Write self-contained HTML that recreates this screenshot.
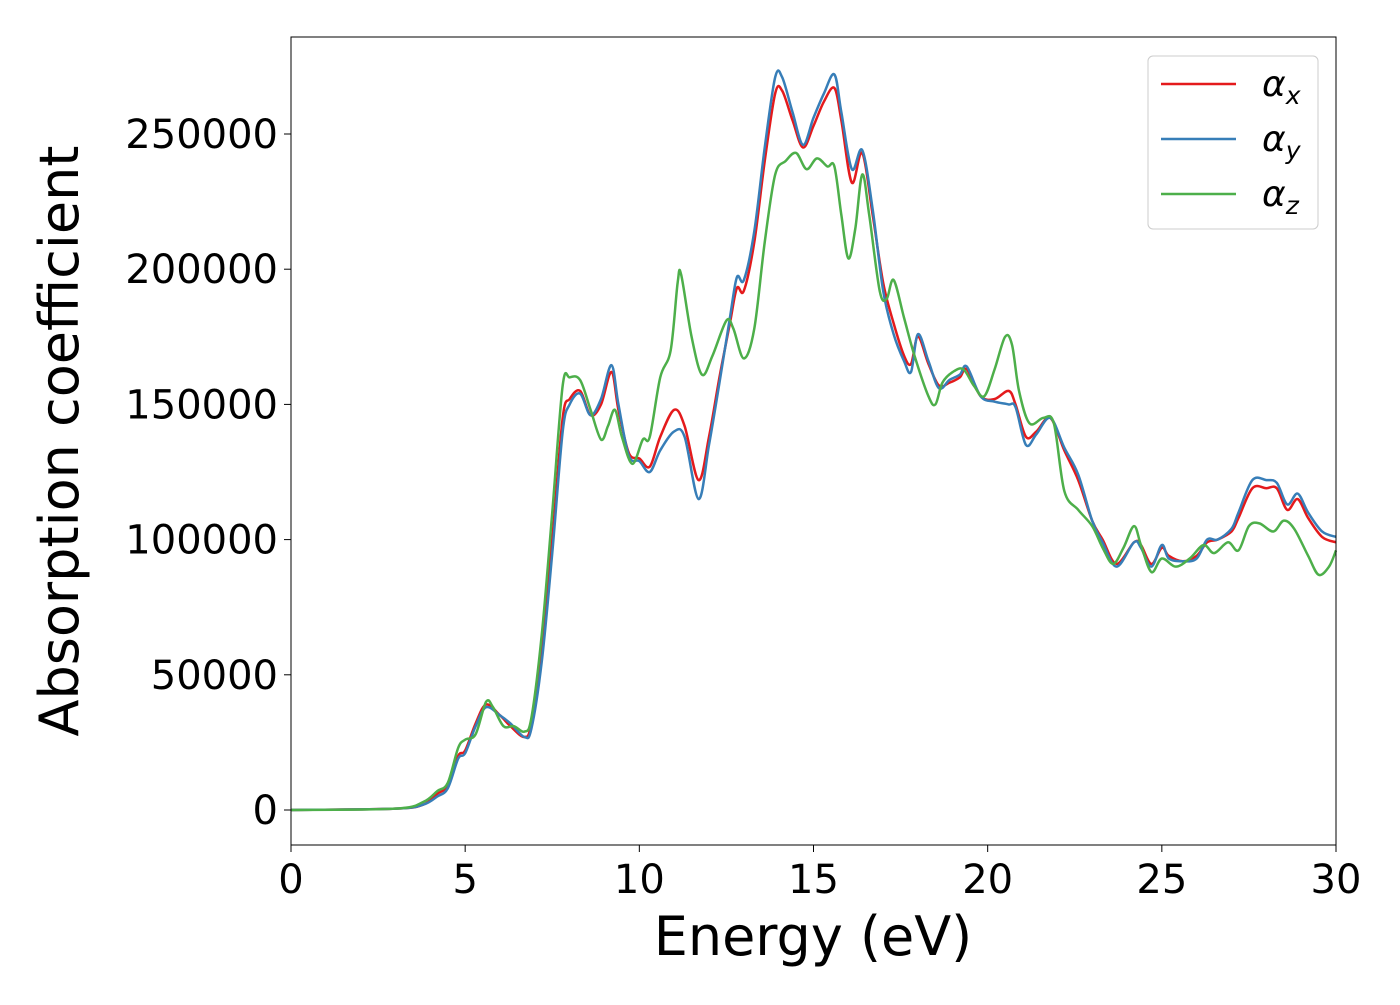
<!DOCTYPE html>
<html><head><meta charset="utf-8"><style>
body{margin:0;background:#fff;font-family:"Liberation Sans","DejaVu Sans",sans-serif}
svg text{font-family:"DejaVu Sans","Liberation Sans",sans-serif}
</style></head><body>
<svg id="chart" width="1400" height="1000" xmlns="http://www.w3.org/2000/svg">
<rect x="0" y="0" width="1400" height="1000" fill="#fff"/>
<g id="series"></g>
<rect x="291" y="37" width="1045" height="808" fill="none" stroke="#000" stroke-width="1"/>
<g id="xticks"></g><g id="yticks"></g>
<text x="813" y="955" font-size="54" text-anchor="middle">Energy (eV)</text>
<text transform="translate(78,441) rotate(-90)" font-size="54" text-anchor="middle">Absorption coefficient</text>
<g>
<rect x="1148" y="56" width="170" height="173" rx="5" fill="#fff" stroke="#ccc"/>
<line x1="1161" y1="84" x2="1236" y2="84" stroke="#e41a1c" stroke-width="2.5"/>
<line x1="1161" y1="139" x2="1236" y2="139" stroke="#377eb8" stroke-width="2.5"/>
<line x1="1161" y1="194" x2="1236" y2="194" stroke="#4daf4a" stroke-width="2.5"/>
<text x="1262" y="96" font-size="36" font-style="italic">α<tspan font-size="25" dy="8">x</tspan></text>
<text x="1262" y="151" font-size="36" font-style="italic">α<tspan font-size="25" dy="8">y</tspan></text>
<text x="1262" y="206" font-size="36" font-style="italic">α<tspan font-size="25" dy="8">z</tspan></text>
</g>
</svg>
<script>
const xTicks=[0,5,10,15,20,25,30];
const yTicks=[0,50000,100000,150000,200000,250000];
const energyX=[0,3,3.8,4.2,4.5,4.8,5.0,5.3,5.6,6.0,6.3,6.7,6.9,7.2,7.5,7.8,8.0,8.3,8.6,8.9,9.2,9.4,9.7,10.0,10.3,10.6,11.0,11.3,11.7,12.0,12.3,12.6,12.8,13.0,13.3,13.6,13.9,14.1,14.4,14.7,15.0,15.3,15.6,15.8,16.1,16.4,16.7,17.0,17.3,17.6,17.8,18.0,18.3,18.6,18.9,19.2,19.4,19.8,20.2,20.6,20.8,21.1,21.4,21.8,22.2,22.6,23.0,23.3,23.7,24.2,24.4,24.7,25.0,25.2,25.6,26.0,26.3,26.6,27.0,27.2,27.6,28.0,28.3,28.6,28.9,29.2,29.6,30];
const alphaX=[0,0.5,2,6,9,20,22,32,39,35,31,27,32,60,100,145,152,155,146,150,162,148,132,130,127,138,148,142,122,138,160,180,193,192,210,240,265,266,255,245,253,262,267,255,232,243,220,195,180,168,165,175,165,157,158,160,163,153,152,155,150,138,140,145,133,122,107,100,91,99,98,91,97,94,92,94,99,100,103,108,119,119,119,111,115,108,101,99];
const alphaY=[0,0.5,2,5,8,19,21,31,38,35,32,27,30,55,95,140,150,154,146,152,164.5,150,131,129,125,133,140,138,115,135,158,182,197,196,214,245,271,271,258,246,256,265,272,258,237,244,222,192,176,166,162,176,166,156,159,161,164,153,151,150,149,135,139,145,134,124,107,99,90,99,97,90,98,93,92,93,100,100,104,110,122,122,121,113,117,110,103,101];
const energyZ=[0,3,3.8,4.2,4.5,4.8,5.0,5.3,5.6,5.8,6.1,6.4,6.7,6.9,7.2,7.5,7.8,8.0,8.3,8.6,8.9,9.1,9.3,9.5,9.8,10.1,10.3,10.6,10.9,11.1,11.2,11.5,11.8,12.1,12.5,12.7,13.0,13.3,13.6,13.9,14.2,14.5,14.8,15.1,15.4,15.6,15.8,16.0,16.2,16.4,16.6,16.9,17.1,17.3,17.6,17.9,18.3,18.5,18.7,19.0,19.3,19.6,19.9,20.2,20.5,20.7,20.9,21.2,21.6,21.9,22.2,22.6,23.0,23.3,23.6,23.9,24.2,24.4,24.7,25.0,25.4,25.8,26.2,26.5,26.9,27.2,27.5,27.8,28.2,28.5,28.8,29.2,29.5,29.8,30];
const alphaZ=[0,0.5,3,7,10,23,26,28,40,38,31,31,29,34,65,110,157,160,159,148,137,142,148,138,128,137,138,160,170,195,198,175,161,168,181,178,167,178,210,235,240,243,237,241,238,238,220,204,215,235,220,192,189,196,182,168,153,150,158,162,163,157,153,163,175,172,155,143,145,143,118,111,105,97,91,97,105,98,88,93,90,93,98,95,99,96,105,106,103,107,104,94,87,90,96];
const X0=291,X1=1336,Y0=810,Y1=134;
function sx(e){return X0+(e-0)/(30-0)*(X1-X0);}
function sy(v){return Y0+(v-0)/(250000-0)*(Y1-Y0);}
const NS='http://www.w3.org/2000/svg';
function pathFrom(xs,ys){
  const p=xs.map((e,i)=>[sx(e),sy(ys[i]*1000)]);
  let d='M'+p[0][0]+','+p[0][1];
  for(let i=0;i<p.length-1;i++){
    const a=p[Math.max(0,i-1)],b=p[i],c=p[i+1],dd=p[Math.min(p.length-1,i+2)];
    const c1=[b[0]+(c[0]-a[0])/6,b[1]+(c[1]-a[1])/6],c2=[c[0]-(dd[0]-b[0])/6,c[1]-(dd[1]-b[1])/6];
    d+=' C'+c1+' '+c2+' '+c;
  }
  return d;
}
const g=document.getElementById('series');
[[energyX,alphaX,'#e41a1c','series-alpha-x'],[energyX,alphaY,'#377eb8','series-alpha-y'],[energyZ,alphaZ,'#4daf4a','series-alpha-z']].forEach(s=>{
  const el=document.createElementNS(NS,'path');
  el.setAttribute('d',pathFrom(s[0],s[1]));
  el.setAttribute('fill','none');el.setAttribute('stroke',s[2]);el.setAttribute('stroke-width','2.5');
  
  
  g.appendChild(el);
});
const xt=document.getElementById('xticks');
xTicks.forEach(t=>{
  const l=document.createElementNS(NS,'line');
  l.setAttribute('x1',sx(t));l.setAttribute('x2',sx(t));l.setAttribute('y1',845);l.setAttribute('y2',852);l.setAttribute('stroke','#000');
  
  
  xt.appendChild(l);
  const tx=document.createElementNS(NS,'text');
  tx.setAttribute('x',sx(t));tx.setAttribute('y',893);tx.setAttribute('font-size','40');tx.setAttribute('text-anchor','middle');
  tx.textContent=t;
  
  
  xt.appendChild(tx);
});
const yt=document.getElementById('yticks');
yTicks.forEach(t=>{
  const l=document.createElementNS(NS,'line');
  l.setAttribute('x1',284);l.setAttribute('x2',291);l.setAttribute('y1',sy(t));l.setAttribute('y2',sy(t));l.setAttribute('stroke','#000');
  
  
  yt.appendChild(l);
  const tx=document.createElementNS(NS,'text');
  tx.setAttribute('x',278);tx.setAttribute('y',sy(t)+14);tx.setAttribute('font-size','40');tx.setAttribute('text-anchor','end');
  tx.textContent=t;
  
  
  yt.appendChild(tx);
});
</script>
</body></html>
